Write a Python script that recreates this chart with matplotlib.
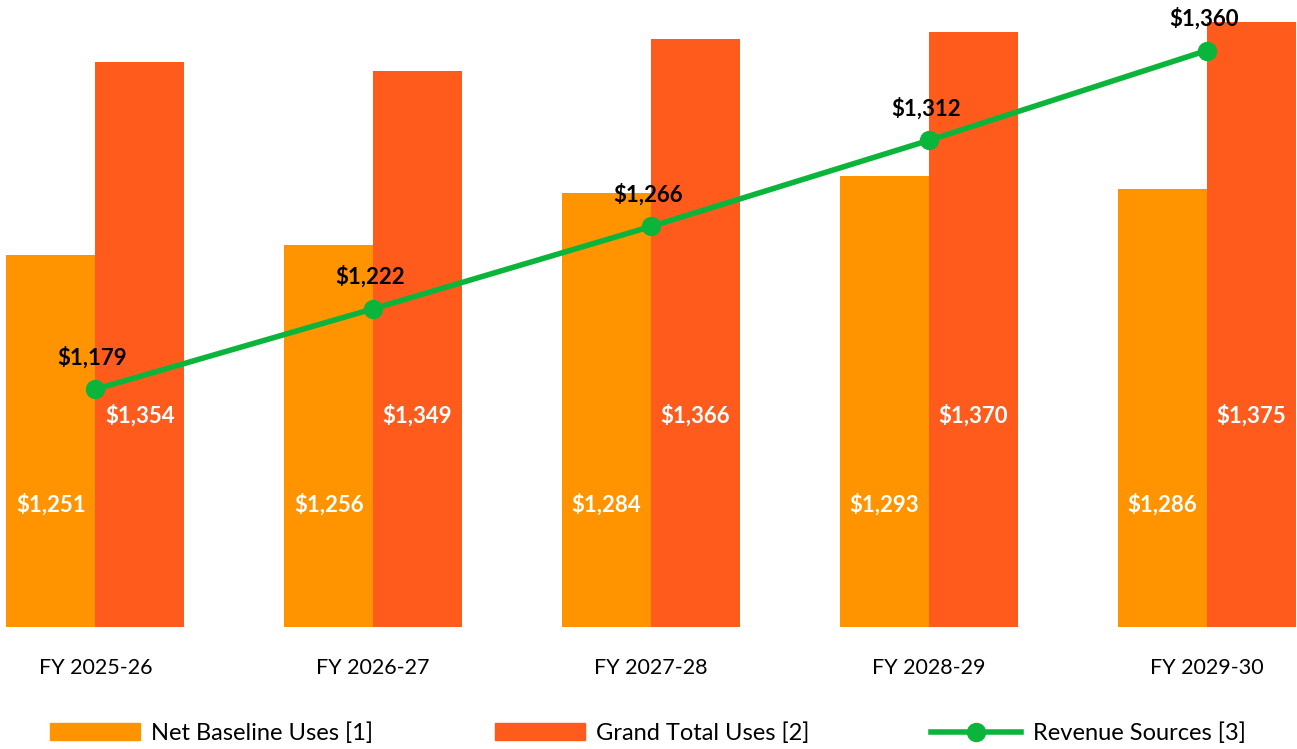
import numpy as np
import matplotlib.pyplot as plt
from matplotlib.lines import Line2D
from matplotlib.patches import Patch

# datos
years = ['FY 2025-26', 'FY 2026-27', 'FY 2027-28', 'FY 2028-29', 'FY 2029-30']
net_baseline = [1251, 1256, 1284, 1293, 1286]
grand_total = [1354, 1349, 1366, 1370, 1375]
revenue = [1179, 1222, 1266, 1312, 1360]

c_orange = '#FF9400'
c_red = '#FF5B1C'
c_green = '#0BB53B'

plt.rcParams['font.family'] = ['Lato', 'DejaVu Sans']

fig = plt.figure(figsize=(12.97, 7.49), dpi=100)
ax = fig.add_axes([0, 0.1629, 1, 0.8371])

x = np.arange(len(years))
w = 0.32
ax.bar(x - w / 2, net_baseline, w, color=c_orange)
ax.bar(x + w / 2, grand_total, w, color=c_red)
ax.plot(x, revenue, color=c_green, lw=4, marker='o', ms=13, zorder=5)

ax.set_ylim(1052, 1387)
ax.set_xlim(-0.343, 4.325)

trans = ax.get_xaxis_transform()
for i in range(len(x)):
    ax.text(x[i] - w / 2, 0.195, f'${net_baseline[i]:,}', transform=trans,
            ha='center', va='center', color='white', fontsize=16, fontweight='bold')
    ax.text(x[i] + w / 2, 0.338, f'${grand_total[i]:,}', transform=trans,
            ha='center', va='center', color='white', fontsize=16, fontweight='bold')
    ax.annotate(f'${revenue[i]:,}', (x[i], revenue[i]), xytext=(-3, 32),
                textcoords='offset pixels', ha='center', va='center',
                color='black', fontsize=16, fontweight='bold', zorder=6)

ax.set_xticks(x)
ax.set_xticklabels(years, fontsize=15.5)
ax.tick_params(axis='x', length=0, pad=22)
ax.set_yticks([])
for s in ax.spines.values():
    s.set_visible(False)

handles = [Patch(color=c_orange), Patch(color=c_red),
           Line2D([], [], color=c_green, lw=4, marker='o', ms=13)]
labels = ['Net Baseline Uses [1]', 'Grand Total Uses [2]', 'Revenue Sources [3]']
fig.legend(handles, labels, loc='center left', bbox_to_anchor=(0.0293, 0.021),
           ncol=3, frameon=False, fontsize=17, handlelength=3.8,
           handleheight=0.75, columnspacing=5.15, handletextpad=0.5, borderpad=0)

fig.savefig('out.png', dpi=100)
